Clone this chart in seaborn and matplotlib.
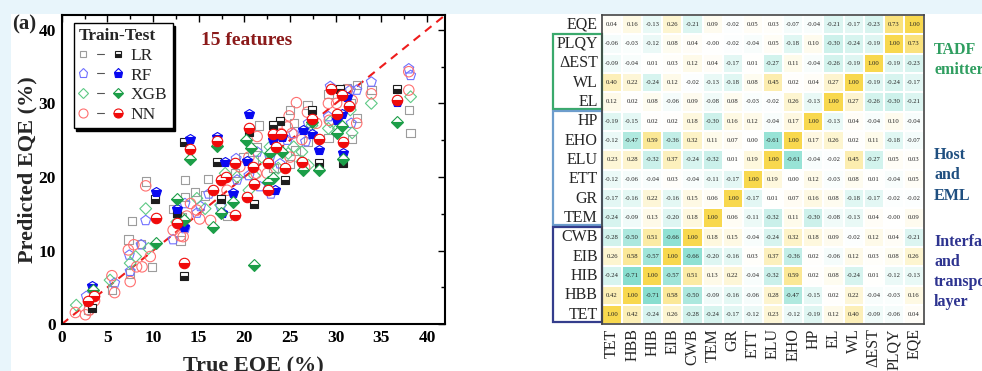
#Recreation of the EQE prediction figure: (a) parity plot and feature correlation heatmap

#import packages
import numpy as np
import pandas as pd
import seaborn as sns
from matplotlib import pyplot as plt
from matplotlib.lines import Line2D
from matplotlib.legend_handler import HandlerTuple
from matplotlib.colors import LinearSegmentedColormap
from matplotlib.patches import Rectangle

#------------------------------------------------
#parity plot data (True EQE, Predicted EQE)
lr_train_x = [7.7, 7.3, 8.7, 9.9, 9.2, 13.5, 16.0, 14.6, 13.5, 12.2, 13.2, 13.0, 5.5, 2.9, 7.5, 18.1, 19.0, 19.9,
              21.0, 21.4, 21.6, 25.0, 25.4, 26.9, 25.0, 25.6, 27.0, 29.2, 29.2, 31.2, 32.3, 32.3, 31.8, 33.9,
              38.0, 38.2, 31.6, 15.7, 23.2]
lr_train_y = [14.0, 11.5, 10.9, 7.8, 19.4, 19.6, 19.7, 18.0, 17.3, 15.7, 14.6, 11.4, 4.7, 1.9, 6.9, 14.7, 20.5, 22.7,
              22.3, 24.1, 27.0, 29.1, 27.3, 29.8, 21.8, 23.6, 24.8, 31.3, 25.3, 32.0, 32.5, 28.0, 25.2, 31.8,
              29.1, 26.0, 30.0, 17.5, 21.2]
lr_test_x = [13.4, 10.2, 13.4, 17.0, 21.0, 24.5, 23.1, 27.4, 28.2, 30.8, 30.5, 36.7, 17.4, 12.6, 3.3, 20.5, 23.9]
lr_test_y = [6.5, 17.0, 24.8, 22.1, 16.4, 19.6, 27.0, 29.1, 21.9, 21.9, 31.9, 32.0, 17.0, 15.1, 2.2, 26.1, 27.6]

rf_train_x = [2.7, 5.8, 7.4, 8.7, 9.2, 7.5, 12.2, 13.5, 13.5, 15.2, 16.1, 19.1, 19.2, 21.4, 21.7, 22.9, 22.8,
              23.9, 24.7, 25.4, 26.7, 27.0, 29.4, 29.2, 31.6, 32.3, 31.7, 33.9, 38.0, 38.2, 20.5, 17.4, 14.8]
rf_train_y = [3.8, 5.6, 9.4, 10.8, 14.1, 7.2, 11.5, 13.0, 16.4, 16.0, 17.7, 22.5, 19.6, 23.4, 18.7, 17.7, 22.7,
              21.8, 25.0, 25.9, 24.8, 27.3, 32.3, 28.2, 31.8, 31.8, 27.3, 32.9, 34.7, 33.8, 20.2, 16.0, 15.1]
rf_test_x = [14.1, 17.0, 20.5, 10.3, 3.3, 13.4, 12.6, 17.6, 18.8, 17.9, 20.3, 23.3, 23.1, 24.1, 26.4, 27.4,
             28.2, 30.1, 30.7, 30.8, 36.7, 31.2]
rf_test_y = [25.2, 25.5, 28.5, 17.9, 5.2, 13.2, 15.7, 15.1, 17.8, 22.1, 22.2, 18.3, 25.0, 25.4, 26.4, 25.9,
             23.7, 27.8, 28.6, 23.3, 30.2, 30.9]

xgb_train_x = [1.6, 5.3, 7.5, 8.1, 9.2, 9.5, 12.6, 13.2, 14.8, 15.7, 17.9, 19.2, 21.1, 21.9, 22.8, 23.7, 24.8,
               25.4, 26.3, 26.3, 27.0, 27.4, 29.2, 29.4, 30.3, 31.6, 31.8, 33.9, 38.2, 17.4, 20.5]
xgb_train_y = [2.6, 6.0, 8.3, 9.2, 15.7, 10.3, 13.9, 14.4, 17.1, 15.7, 20.5, 20.0, 20.2, 22.7, 24.1, 21.2, 23.2,
               24.1, 23.4, 22.1, 21.6, 27.0, 26.6, 27.5, 26.6, 29.1, 26.0, 30.0, 30.9, 16.2, 18.2]
xgb_test_x = [14.1, 17.0, 10.3, 12.6, 3.4, 21.0, 20.2, 20.7, 13.4, 16.6, 17.4, 18.8, 22.6, 22.8, 23.1, 26.4,
              27.4, 28.2, 30.1, 30.7, 30.8, 36.7, 24.1]
xgb_test_y = [22.5, 24.2, 11.1, 17.0, 4.7, 8.0, 25.0, 23.9, 14.1, 13.2, 15.1, 16.6, 19.3, 23.3, 19.8, 20.9,
              27.5, 20.9, 26.0, 26.9, 22.4, 27.5, 23.4]

nn_train_x = [1.5, 2.6, 3.0, 3.6, 5.5, 5.8, 7.5, 7.3, 7.9, 8.2, 8.8, 9.2, 9.7, 12.2, 13.0, 13.3, 13.7, 14.1,
              14.8, 15.1, 16.3, 18.1, 19.5, 20.5, 21.3, 21.4, 22.5, 24.0, 24.7, 24.9, 25.0, 25.2, 25.7, 26.3,
              26.6, 26.9, 27.9, 29.2, 29.3, 30.1, 31.2, 31.8, 32.3, 33.9, 38.0, 38.0]
nn_train_y = [1.6, 1.3, 1.9, 3.2, 6.6, 4.3, 5.8, 10.1, 10.8, 7.8, 7.8, 18.8, 9.2, 12.8, 12.0, 11.9, 14.7, 16.4,
              15.5, 14.3, 14.1, 18.2, 21.4, 22.7, 20.5, 25.5, 20.5, 25.9, 26.8, 28.3, 22.7, 25.9, 30.1, 25.1,
              21.3, 28.8, 27.3, 30.0, 27.7, 30.0, 31.8, 30.4, 27.3, 31.3, 31.8, 34.3]
nn_test_x = [13.4, 10.3, 14.1, 17.0, 20.5, 2.9, 3.5, 16.6, 17.4, 18.0, 19.0, 19.0, 20.3, 20.9, 21.0, 22.6,
             22.6, 23.1, 23.5, 24.0, 24.5, 26.3, 27.4, 28.2, 29.5, 30.1, 30.7, 30.8, 31.4, 36.7, 12.6]
nn_test_y = [8.3, 14.4, 23.8, 24.9, 26.6, 3.1, 3.8, 18.2, 19.6, 20.0, 14.8, 21.9, 17.3, 21.4, 19.1, 18.3,
             21.9, 25.9, 24.1, 25.9, 21.2, 22.1, 27.9, 25.2, 32.0, 28.6, 31.1, 24.8, 29.7, 30.4, 13.8]

models = ['LR', 'RF', 'XGB', 'NN']
markers = {'LR': 's', 'RF': 'p', 'XGB': 'D', 'NN': 'o'}
marker_size = {'LR': 6, 'RF': 7.5, 'XGB': 6, 'NN': 7.5}
train_colors = {'LR': '#9c9c9c', 'RF': '#7070ff', 'XGB': '#5ec985', 'NN': '#ff7070'}
test_colors = {'LR': '#1e1e1e', 'RF': '#0808f0', 'XGB': '#1c9e48', 'NN': '#f00a0a'}

#build one long table for the parity plot
parts = []
for name, (trx, tr_y, tex, te_y) in {
        'LR': (lr_train_x, lr_train_y, lr_test_x, lr_test_y),
        'RF': (rf_train_x, rf_train_y, rf_test_x, rf_test_y),
        'XGB': (xgb_train_x, xgb_train_y, xgb_test_x, xgb_test_y),
        'NN': (nn_train_x, nn_train_y, nn_test_x, nn_test_y)}.items():
    parts.append(pd.DataFrame({'true': trx, 'pred': tr_y, 'model': name, 'set': 'Train'}))
    parts.append(pd.DataFrame({'true': tex, 'pred': te_y, 'model': name, 'set': 'Test'}))
parity = pd.concat(parts, ignore_index=True)

#------------------------------------------------
#correlation heatmap data (rows top to bottom, columns left to right)
row_labels = ['EQE', 'PLQY', 'ΔEST', 'WL', 'EL', 'HP', 'EHO', 'ELU', 'ETT', 'GR', 'TEM', 'CWB', 'EIB', 'HIB', 'HBB', 'TET']
col_labels = ['TET', 'HBB', 'HIB', 'EIB', 'CWB', 'TEM', 'GR', 'ETT', 'ELU', 'EHO', 'HP', 'EL', 'WL', 'ΔEST', 'PLQY', 'EQE']
corr_rows = [
    [0.04, 0.16, -0.13, 0.26, -0.21, 0.09, -0.02, 0.05, 0.03, -0.07, -0.04, -0.21, -0.17, -0.23, 0.73, 1.00],
    [-0.06, -0.03, -0.12, 0.08, 0.04, -0.0, -0.02, -0.04, 0.05, -0.18, 0.10, -0.30, -0.24, -0.19, 1.00, 0.73],
    [-0.09, -0.04, 0.01, 0.03, 0.12, 0.04, -0.17, 0.01, -0.27, 0.11, -0.04, -0.26, -0.19, 1.00, -0.19, -0.23],
    [0.40, 0.22, -0.24, 0.12, -0.02, -0.13, -0.18, 0.08, 0.45, 0.02, 0.04, 0.27, 1.00, -0.19, -0.24, -0.17],
    [0.12, 0.02, 0.08, -0.06, 0.09, -0.08, 0.08, -0.03, -0.02, 0.26, -0.13, 1.00, 0.27, -0.26, -0.30, -0.21],
    [-0.19, -0.15, 0.02, 0.02, 0.18, -0.30, 0.16, 0.12, -0.04, 0.17, 1.00, -0.13, 0.04, -0.04, 0.10, -0.04],
    [-0.12, -0.47, 0.59, -0.36, 0.32, 0.11, 0.07, 0.00, -0.61, 1.00, 0.17, 0.26, 0.02, 0.11, -0.18, -0.07],
    [0.23, 0.28, -0.32, 0.37, -0.24, -0.32, 0.01, 0.19, 1.00, -0.61, -0.04, -0.02, 0.45, -0.27, 0.05, 0.03],
    [-0.12, -0.06, -0.04, 0.03, -0.04, -0.11, -0.17, 1.00, 0.19, 0.00, 0.12, -0.03, 0.08, 0.01, -0.04, 0.05],
    [-0.17, -0.16, 0.22, -0.16, 0.15, 0.06, 1.00, -0.17, 0.01, 0.07, 0.16, 0.08, -0.18, -0.17, -0.02, -0.02],
    [-0.24, -0.09, 0.13, -0.20, 0.18, 1.00, 0.06, -0.11, -0.32, 0.11, -0.30, -0.08, -0.13, 0.04, -0.0, 0.09],
    [-0.28, -0.50, 0.51, -0.66, 1.00, 0.18, 0.15, -0.04, -0.24, 0.32, 0.18, 0.09, -0.02, 0.12, 0.04, -0.21],
    [0.26, 0.58, -0.57, 1.00, -0.66, -0.20, -0.16, 0.03, 0.37, -0.36, 0.02, -0.06, 0.12, 0.03, 0.08, 0.26],
    [-0.24, -0.71, 1.00, -0.57, 0.51, 0.13, 0.22, -0.04, -0.32, 0.59, 0.02, 0.08, -0.24, 0.01, -0.12, -0.13],
    [0.42, 1.00, -0.71, 0.58, -0.50, -0.09, -0.16, -0.06, 0.28, -0.47, -0.15, 0.02, 0.22, -0.04, -0.03, 0.16],
    [1.00, 0.42, -0.24, 0.26, -0.28, -0.24, -0.17, -0.12, 0.23, -0.12, -0.19, 0.12, 0.40, -0.09, -0.06, 0.04],
]
corr = pd.DataFrame(corr_rows, index=row_labels, columns=col_labels)

#feature groups (label, first row, last row + 1, colour, row at which the name is centred)
group_names = ['TADF\nemitter', 'Host\nand\nEML', 'Interface\nand\ntransport\nlayer']
group_start = [1, 5, 11]
group_stop = [5, 11, 16]
group_label_row = [2.35, 8.3, 13.3]
group_colors = ['#3aa96c', '#6d9dcc', '#343d8c']
group_text_colors = ['#2f9e60', '#1f4f80', '#2e3490']

#------------------------------------------------
sns.set_theme(style='white')
plt.rcParams['font.family'] = ['Liberation Serif', 'DejaVu Serif']

fig = plt.figure(figsize=(9.82, 3.71), dpi=100, facecolor='#e8f5fb')
#white page area, kept behind the axes
fig.patches.append(Rectangle((0.0112, 0), 0.99, 0.962, transform=fig.transFigure,
                             facecolor='white', edgecolor='none', zorder=-10))

#---------------- parity plot ----------------
ax = fig.add_axes([0.0628, 0.1259, 0.3907, 0.8337])
ax.axline((0, 0), slope=1, color='#ee1c1c', lw=1.5, ls=(0, (4, 3)), zorder=1)

for m in models:
    tr = parity[(parity['model'] == m) & (parity['set'] == 'Train')]
    sns.scatterplot(data=tr, x='true', y='pred', ax=ax, marker=markers[m], s=marker_size[m] ** 2,
                    facecolors='none', edgecolor=train_colors[m], linewidth=0.8, zorder=2, legend=False)
for m in models:
    te = parity[(parity['model'] == m) & (parity['set'] == 'Test')]
    ax.plot(te['true'], te['pred'], ls='none', marker=markers[m], ms=marker_size[m], fillstyle='bottom',
            markerfacecolor=test_colors[m], markerfacecoloralt='white', markeredgecolor=test_colors[m],
            markeredgewidth=0.8, zorder=3)

ax.set_xlim(0, 42)
ax.set_ylim(0, 42)
ax.set_xticks(np.arange(0, 41, 5))
ax.set_yticks(np.arange(0, 41, 10))
ax.set_xticks(np.arange(2.5, 42, 5), minor=True)
ax.set_yticks(np.arange(5, 42, 10), minor=True)
ax.tick_params(which='both', direction='in', top=True, right=True, width=1, colors='black')
ax.tick_params(which='major', length=5, labelsize=12.5, pad=4)
ax.tick_params(which='minor', length=3)
for lab in ax.get_xticklabels() + ax.get_yticklabels():
    lab.set_fontweight('bold')
for sp in ax.spines.values():
    sp.set_linewidth(1.5)
    sp.set_color('black')
ax.set_xlabel('True EQE (%)', fontsize=16, fontweight='bold', labelpad=8)
ax.set_ylabel('Predicted EQE (%)', fontsize=16, fontweight='bold', labelpad=1)
ax.text(15.2, 38.5, '15 features', color='#8b1a1a', fontsize=14, fontweight='bold', va='center')
fig.text(0.012, 0.935, '(a)', fontsize=15, fontweight='bold', va='center')

#legend: open train marker - dash - half filled test marker
handles = []
for m in models:
    h_train = Line2D([], [], ls='none', marker=markers[m], ms=marker_size[m] - 1, markerfacecolor='none',
                     markeredgecolor=train_colors[m], markeredgewidth=0.8)
    h_dash = Line2D([], [], color='#555555', lw=0.8)
    h_test = Line2D([], [], ls='none', marker=markers[m], ms=marker_size[m] - 1, fillstyle='bottom',
                    markerfacecolor=test_colors[m], markerfacecoloralt='white',
                    markeredgecolor=test_colors[m], markeredgewidth=0.8)
    handles.append((h_train, h_dash, h_test))
leg = ax.legend(handles, models, handler_map={tuple: HandlerTuple(ndivide=None, pad=0.6)},
                loc='upper left', bbox_to_anchor=(0.022, 0.985), fontsize=12.5,
                handlelength=2.5, handletextpad=0.5, labelspacing=0.2, borderpad=0.3,
                borderaxespad=0.2, fancybox=False, edgecolor='black', framealpha=1,
                shadow={'color': 'black', 'alpha': 1})
leg.set_title('Train-Test', prop={'weight': 'bold', 'size': 12.5})
leg.get_frame().set_linewidth(1.0)
leg._legend_box.align = 'left'

#---------------- correlation heatmap ----------------
cmap = LinearSegmentedColormap.from_list('tealgold', ['#58d1bc', '#ffffff', '#f8d84e'])
hx = fig.add_axes([0.613, 0.126, 0.328, 0.834])
sns.heatmap(corr, ax=hx, cmap=cmap, vmin=-1, vmax=1, cbar=False, annot=True, fmt='.2f',
            annot_kws={'fontsize': 4.8, 'color': '#222222'}, linewidths=1.4, linecolor='white')
hx.tick_params(length=0, pad=3)
hx.set_yticklabels(row_labels, rotation=0, fontsize=11.5)
hx.set_xticklabels(col_labels, rotation=90, fontsize=11.5)
hx.set_xlabel('')
hx.set_ylabel('')
for sp in hx.spines.values():
    sp.set_visible(True)
    sp.set_color('#444444')
    sp.set_linewidth(1.2)

#group boxes round the row labels and group names on the right
for name, start, stop, yc, c, tc in zip(group_names, group_start, group_stop, group_label_row,
                                        group_colors, group_text_colors):
    hx.add_patch(Rectangle((-2.45, start - 0.02), 2.45, stop - start - 0.1, fill=False, edgecolor=c,
                           lw=1.6, clip_on=False, transform=hx.transData))
    hx.text(16.5, yc, name, color=tc, fontsize=11.5, fontweight='bold', va='center', ha='left',
            linespacing=1.35, clip_on=False)

fig.savefig('out.png', dpi=100, facecolor=fig.get_facecolor())
